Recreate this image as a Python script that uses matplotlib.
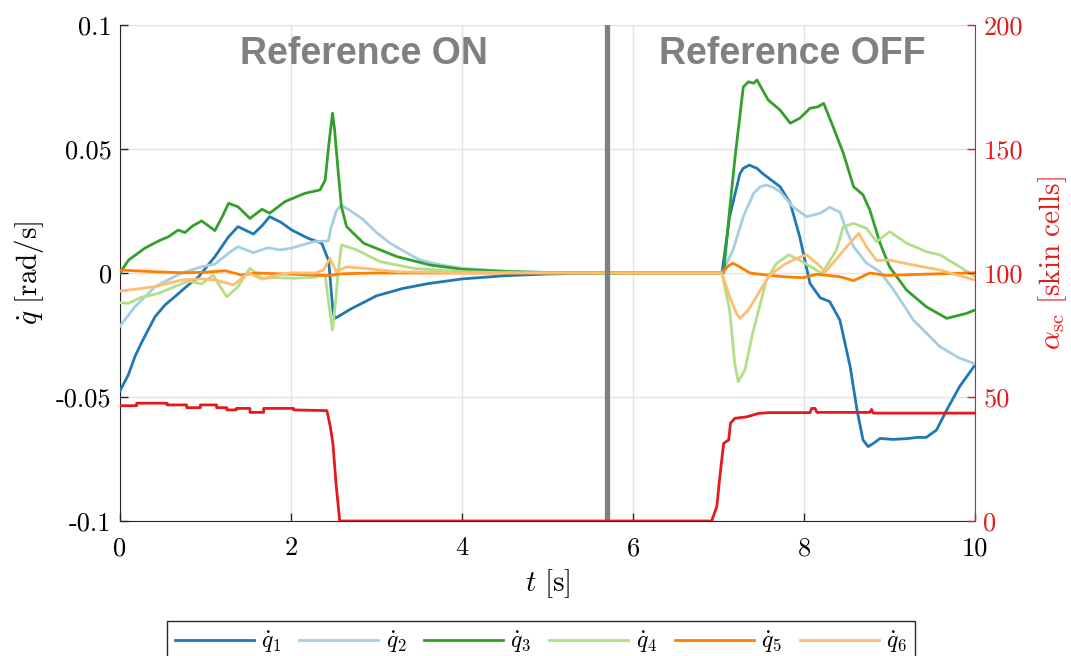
import numpy as np
import matplotlib
matplotlib.use("Agg")
import matplotlib.pyplot as plt
from matplotlib.ticker import FixedLocator, FixedFormatter

plt.rcParams['mathtext.fontset'] = 'cm'
plt.rcParams['axes.unicode_minus'] = False

# ---- joint velocities q̇1..q̇6 [rad/s] ----
t_q1 = [0, 0.097, 0.175, 0.25, 0.41, 0.526, 0.64, 0.8, 0.92, 1.03, 1.11, 1.27, 1.38, 1.47, 1.56,
        1.66, 1.75, 1.88, 2.01, 2.20, 2.36, 2.44, 2.49, 2.51, 2.53, 2.7, 3.0, 3.3, 3.6, 4.0, 4.5,
        5.0, 5.5, 6.0, 7.04, 7.13, 7.25, 7.29, 7.36, 7.45, 7.52, 7.72, 7.84, 7.95, 8.07, 8.19,
        8.30, 8.42, 8.54, 8.62, 8.69, 8.75, 8.82, 8.89, 9.04, 9.2, 9.32, 9.43, 9.55, 9.67, 9.82,
        10.0]
q1 = [-0.0475, -0.0411, -0.0337, -0.0282, -0.0176, -0.0129, -0.0096, -0.0048, -0.0015, 0.0032,
      0.0066, 0.0146, 0.0187, 0.0172, 0.0157, 0.0190, 0.0227, 0.0205, 0.0173, 0.0140, 0.0120,
      0.0050, -0.0150, -0.0183, -0.0180, -0.0145, -0.0092, -0.0063, -0.0043, -0.0024, -0.0011,
      -0.0004, -0.0001, 0.0, 0.0, 0.0227, 0.0400, 0.0422, 0.0435, 0.0422, 0.0400, 0.0348,
      0.0281, 0.0146, -0.0042, -0.0100, -0.0115, -0.0190, -0.0378, -0.0552, -0.0673, -0.0700,
      -0.0685, -0.0667, -0.0671, -0.0668, -0.0663, -0.0663, -0.0633, -0.0552, -0.0458, -0.0371]

t_q2 = [0, 0.175, 0.41, 0.72, 0.955, 1.11, 1.27, 1.38, 1.56, 1.73, 1.87, 2.0, 2.26, 2.42, 2.44,
        2.47, 2.49, 2.53, 2.585, 2.7, 2.85, 3.0, 3.16, 3.35, 3.51, 3.75, 4.0, 4.6, 5.2, 6.0,
        7.04, 7.17, 7.29, 7.41, 7.49, 7.56, 7.64, 7.72, 7.87, 8.03, 8.19, 8.30, 8.42, 8.5, 8.58,
        8.73, 8.89, 9.05, 9.28, 9.59, 9.8, 10.0]
q2 = [-0.0214, -0.0136, -0.0055, 0.0, 0.0025, 0.0036, 0.0080, 0.0106, 0.0082, 0.0102, 0.0093,
      0.0100, 0.0126, 0.0129, 0.0132, 0.0187, 0.0205, 0.0250, 0.0274, 0.0250, 0.0214, 0.0163,
      0.0120, 0.0082, 0.0052, 0.0033, 0.0019, 0.0005, 0.0001, 0.0, 0.0, 0.0093, 0.0227,
      0.0321, 0.0348, 0.0355, 0.0345, 0.0328, 0.0267, 0.0227, 0.0241, 0.0265, 0.0245, 0.0170,
      0.0106, 0.0040, 0.0005, -0.0069, -0.0190, -0.0297, -0.0340, -0.0367]

t_q3 = [0, 0.1, 0.29, 0.45, 0.565, 0.68, 0.76, 0.85, 0.955, 1.11, 1.2, 1.27, 1.38, 1.52, 1.66,
        1.75, 1.93, 2.16, 2.34, 2.40, 2.44, 2.485, 2.51, 2.55, 2.59, 2.65, 2.85, 3.24, 3.63,
        4.0, 4.5, 5.0, 6.0, 7.06, 7.13, 7.19, 7.29, 7.35, 7.41, 7.45, 7.58, 7.72, 7.84, 7.95,
        8.07, 8.16, 8.23, 8.34, 8.46, 8.58, 8.69, 8.77, 8.89, 9.0, 9.2, 9.43, 9.67, 9.9, 10.0]
q3 = [0.0, 0.0052, 0.0100, 0.0129, 0.0146, 0.0173, 0.0163, 0.0190, 0.0210, 0.0171, 0.0230,
      0.0281, 0.0267, 0.0220, 0.0257, 0.0241, 0.0288, 0.0321, 0.0335, 0.0375, 0.0510, 0.0644,
      0.0577, 0.0415, 0.0267, 0.0187, 0.0120, 0.0066, 0.0032, 0.0015, 0.0006, 0.0002, 0.0,
      0.0, 0.0254, 0.0456, 0.0750, 0.0771, 0.0765, 0.0778, 0.0698, 0.0657, 0.0604, 0.0624,
      0.0664, 0.0670, 0.0684, 0.0590, 0.0483, 0.0348, 0.0315, 0.0254, 0.0120, 0.0025,
      -0.0069, -0.0136, -0.0183, -0.0163, -0.0149]

t_q4 = [0, 0.1, 0.25, 0.45, 0.64, 0.8, 0.955, 1.09, 1.18, 1.25, 1.38, 1.52, 1.66, 1.81, 2.05,
        2.28, 2.4, 2.44, 2.485, 2.52, 2.55, 2.59, 2.77, 3.04, 3.43, 4.0, 4.6, 6.0, 7.04, 7.13,
        7.19, 7.23, 7.31, 7.39, 7.47, 7.56, 7.68, 7.82, 7.95, 8.11, 8.21, 8.38, 8.46, 8.58,
        8.73, 8.85, 9.0, 9.2, 9.43, 9.59, 9.79, 10.0]
q4 = [-0.0120, -0.0122, -0.0098, -0.0082, -0.0055, -0.0032, -0.0044, -0.0008, -0.0060,
      -0.0096, -0.0055, 0.0019, -0.0021, -0.0019, -0.0021, -0.0017, -0.0008, -0.0120, -0.0230,
      -0.0120, 0.0, 0.0113, 0.0093, 0.0046, 0.0019, 0.0005, 0.0001, 0.0, 0.0, -0.0149, -0.0364,
      -0.0438, -0.0390, -0.0257, -0.0149, -0.0028, 0.0039, 0.0073, 0.0052, 0.0019, -0.0002,
      0.0093, 0.0187, 0.0200, 0.0180, 0.0126, 0.0167, 0.0120, 0.0086, 0.0073, 0.0032, -0.0015]

t_q5 = [0, 0.41, 0.72, 1.0, 1.23, 1.42, 1.6, 2.0, 2.44, 2.6, 3.0, 7.04, 7.12, 7.17, 7.22, 7.37,
        7.56, 7.76, 7.99, 8.15, 8.34, 8.42, 8.58, 8.77, 8.97, 9.4, 10.0]
q5 = [0.0012, 0.0005, 0.0001, 0.0003, 0.0009, -0.0008, 0.0, -0.0005, -0.0010, -0.0003, 0.0,
      0.0, 0.0030, 0.0039, 0.0030, 0.0, -0.0008, -0.0015, -0.0019, -0.0005, -0.0012, -0.0015,
      -0.0031, 0.0, -0.0010, -0.0005, 0.0001]

t_q6 = [0, 0.41, 0.72, 0.955, 1.11, 1.33, 1.5, 1.66, 1.8, 2.0, 2.28, 2.38, 2.456, 2.53, 2.65,
        2.85, 3.24, 4.0, 6.0, 7.04, 7.13, 7.21, 7.25, 7.35, 7.49, 7.6, 7.76, 7.91, 8.03, 8.15,
        8.25, 8.3, 8.5, 8.64, 8.73, 8.85, 9.0, 9.28, 9.59, 9.79, 10.0]
q6 = [-0.0073, -0.0055, -0.0028, -0.0024, -0.0028, -0.0048, 0.0001, -0.0025, -0.0012, 0.0001,
      0.0, 0.0012, 0.0059, 0.0005, 0.0025, 0.0019, 0.0005, 0.0001, 0.0, 0.0, -0.0096, -0.0163,
      -0.0183, -0.0149, -0.0069, -0.0008, 0.0032, 0.0059, 0.0073, 0.0039, 0.0005, 0.0025,
      0.0106, 0.0160, 0.0106, 0.0050, 0.0052, 0.0032, 0.0012, -0.0008, -0.0028]

# ---- number of active skin cells ----
t_alpha = [0, 0.195, 0.195, 0.55, 0.55, 0.78, 0.78, 0.94, 0.94, 1.13, 1.13, 1.25, 1.25, 1.36,
           1.36, 1.52, 1.52, 1.68, 1.68, 2.03, 2.03, 2.42, 2.46, 2.49, 2.53, 2.57, 6.92, 6.98,
           7.02, 7.06, 7.12, 7.14, 7.19, 7.33, 7.47, 7.6, 8.07, 8.09, 8.13, 8.15, 8.77, 8.79,
           8.81, 10.0]
alpha = [46.5, 46.5, 47.5, 47.5, 46.8, 46.8, 45.7, 45.7, 46.8, 46.8, 45.7, 45.7, 44.8, 44.8,
         45.4, 45.4, 43.8, 43.8, 45.4, 45.4, 44.8, 44.5, 38.0, 31.3, 13.8, 0.0, 0.0, 5.8, 19.2,
         31.3, 32.7, 39.4, 41.4, 42.0, 43.4, 43.7, 43.7, 45.4, 45.4, 43.8, 43.8, 45.0, 43.5, 43.5]

series_t = [t_q1, t_q2, t_q3, t_q4, t_q5, t_q6]
series_v = [q1, q2, q3, q4, q5, q6]
labels = [r'$\dot{q}_1$', r'$\dot{q}_2$', r'$\dot{q}_3$', r'$\dot{q}_4$', r'$\dot{q}_5$', r'$\dot{q}_6$']
colors = ['#1f78b4', '#a6cee3', '#33a02c', '#b2df8a', '#ff7f00', '#fdbf6f']

x_ticks = [0, 2, 4, 6, 8, 10]
y_ticks = [-0.1, -0.05, 0, 0.05, 0.1]
y_ticklabels = ['-0.1', '-0.05', '0', '0.05', '0.1']
r_ticks = [0, 50, 100, 150, 200]
t_switch = 5.7

RED = '#e31a1c'
SERIF = 'cmr10'
FS = 19
LW = 2.0

fig = plt.figure(figsize=(10.71, 6.56), dpi=100)
ax = fig.add_axes([120/1071, 1-521/656, 855/1071, 496/656])
ax2 = ax.twinx()

for tt, vv, lab, c in zip(series_t, series_v, labels, colors):
    ax.plot(tt, vv, color=c, lw=LW, label=lab, zorder=3, solid_joinstyle='round')

ax.axvline(t_switch, color='#808080', lw=3.8, zorder=4)

ax2.plot(t_alpha, alpha, color=RED, lw=LW, zorder=3)

ax.set_xlim(0, 10)
ax.set_ylim(-0.1, 0.1)
ax2.set_ylim(0, 200)

ax.grid(True, color='#e3e3e3', lw=1.0, zorder=0)
ax.set_axisbelow(True)

ax.xaxis.set_major_locator(FixedLocator(x_ticks))
ax.xaxis.set_major_formatter(FixedFormatter([str(v) for v in x_ticks]))
ax.yaxis.set_major_locator(FixedLocator(y_ticks))
ax.yaxis.set_major_formatter(FixedFormatter(y_ticklabels))
ax2.yaxis.set_major_locator(FixedLocator(r_ticks))
ax2.yaxis.set_major_formatter(FixedFormatter([str(v) for v in r_ticks]))

ax.tick_params(axis='both', direction='in', length=6, width=1, labelsize=FS, color='#262626')
ax.tick_params(axis='x', pad=11)
ax.tick_params(axis='y', pad=6)
ax2.tick_params(axis='y', direction='in', length=6, width=1, labelsize=FS, colors=RED, pad=6)
for lbl in ax.get_xticklabels() + ax.get_yticklabels() + ax2.get_yticklabels():
    lbl.set_fontfamily(SERIF)

for a in (ax, ax2):
    a.spines['top'].set_visible(False)
ax.spines['right'].set_visible(False)
ax2.spines['left'].set_visible(False)
ax2.spines['bottom'].set_visible(False)
ax2.spines['right'].set_color(RED)
ax.spines['left'].set_color('#262626')
ax.spines['bottom'].set_color('#262626')

ax.set_xlabel(r'$t\ \mathrm{[s]}$', fontsize=21)
ax.xaxis.set_label_coords(0.5, -0.093)
ax.set_ylabel(r'$\dot{q}\ \mathrm{[rad/s]}$', fontsize=21)
ax.yaxis.set_label_coords(-0.087, 0.5)
ax2.set_ylabel(r'$\alpha_{\mathrm{sc}}\ \mathrm{[skin\ cells]}$', fontsize=21, color=RED,
               rotation=90)
ax2.yaxis.set_label_coords(1.072, 0.52)

ax.text(2.85, 0.0883, 'Reference ON', ha='center', va='center', fontsize=27,
        fontweight='bold', color='#808080', family='Liberation Sans', zorder=5)
ax.text(7.865, 0.0883, 'Reference OFF', ha='center', va='center', fontsize=27,
        fontweight='bold', color='#808080', family='Liberation Sans', zorder=5)

handles, labs = ax.get_legend_handles_labels()
leg = fig.legend(handles, labs, loc='upper center', bbox_to_anchor=(541/1071, 1-621/656),
                 ncol=6, fontsize=17, handlelength=3.35, handletextpad=0.3,
                 columnspacing=0.75, fancybox=False, framealpha=1, edgecolor='#262626',
                 borderpad=0.35, borderaxespad=0)
leg.get_frame().set_linewidth(1.0)

fig.savefig('out.png', dpi=100)
